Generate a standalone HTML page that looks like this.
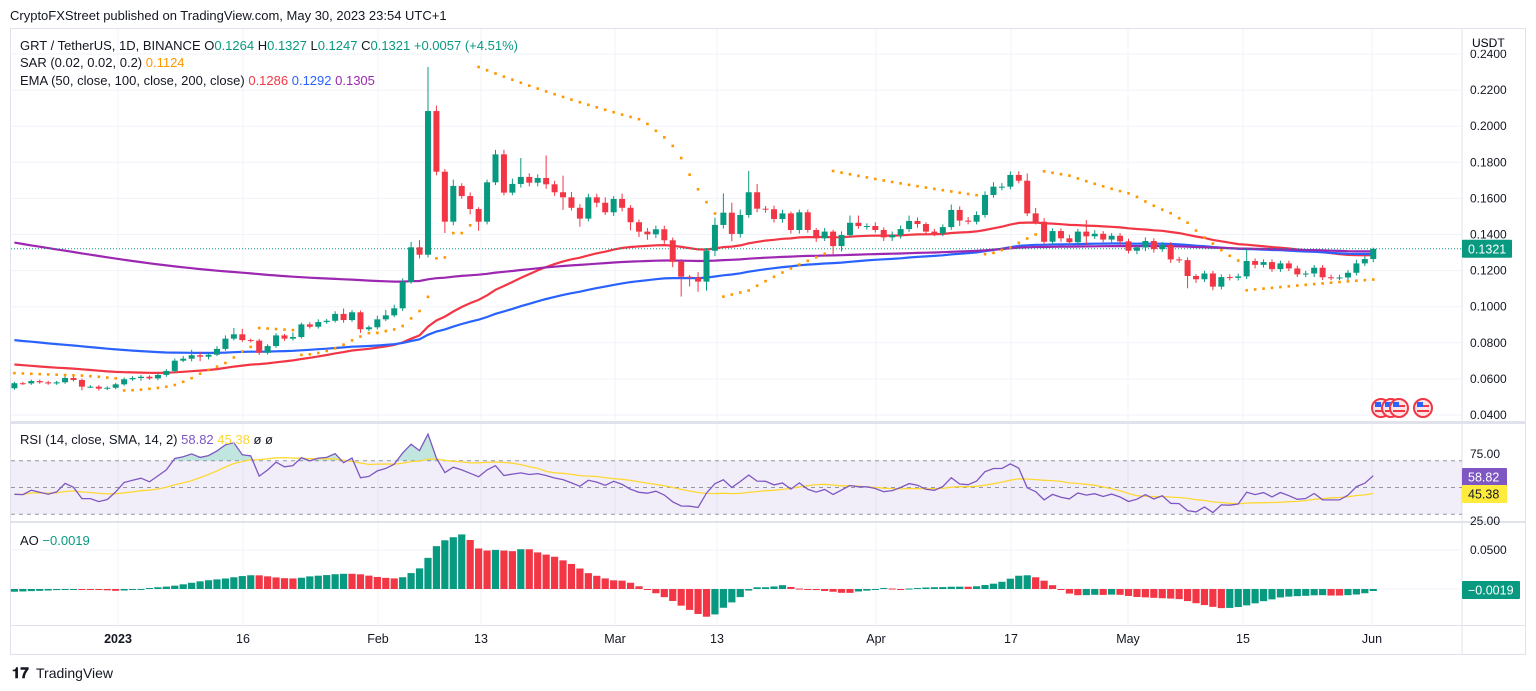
<!DOCTYPE html>
<html><head><meta charset="utf-8">
<style>
body{margin:0;background:#fff;width:1536px;height:691px;overflow:hidden;font-family:"Liberation Sans",sans-serif;}
svg{position:absolute;left:0;top:0}
text{font-family:"Liberation Sans",sans-serif}
</style></head>
<body>
<svg id="chart" width="1536" height="691" viewBox="0 0 1536 691">
<text x="10" y="20" font-size="13" fill="#131722">CryptoFXStreet published on TradingView.com, May 30, 2023 23:54 UTC+1</text>
<rect x="10.5" y="28.5" width="1515" height="626" fill="#fff" stroke="#e0e3eb"/>
<g id="grid"></g>
<g id="price"></g>
<g id="rsi"></g>
<g id="ao"></g>
<g id="axes"></g>
<g font-size="13">
<text x="20" y="50" fill="#131722">GRT / TetherUS, 1D, BINANCE  O<tspan fill="#089981">0.1264</tspan>  H<tspan fill="#089981">0.1327</tspan>  L<tspan fill="#089981">0.1247</tspan>  C<tspan fill="#089981">0.1321</tspan>  <tspan fill="#089981">+0.0057 (+4.51%)</tspan></text>
<text x="20" y="67" fill="#131722">SAR (0.02, 0.02, 0.2)  <tspan fill="#FF9800">0.1124</tspan></text>
<text x="20" y="85" fill="#131722">EMA (50, close, 100, close, 200, close)  <tspan fill="#F23645">0.1286</tspan>  <tspan fill="#2962FF">0.1292</tspan>  <tspan fill="#9C27B0">0.1305</tspan></text>
<text x="20" y="444" fill="#131722">RSI (14, close, SMA, 14, 2)  <tspan fill="#7E57C2">58.82</tspan>  <tspan fill="#FDD835">45.38</tspan>  ø  ø</text>
<text x="20" y="545" fill="#131722">AO  <tspan fill="#089981">−0.0019</tspan></text>
</g>
<rect x="1463" y="29" width="62" height="12" fill="#fff"/>
<text x="1472" y="47" font-size="12" fill="#131722">USDT</text>
<g>
<g><circle cx="1381" cy="408" r="9" fill="#fde4e6" stroke="#F23645" stroke-width="2"/><rect x="1375" y="405" width="12" height="2" fill="#F23645"/><rect x="1375" y="410" width="12" height="2" fill="#F23645"/><rect x="1375" y="402" width="6" height="5" fill="#2962FF"/></g>
<g><circle cx="1391" cy="408" r="9" fill="#fde4e6" stroke="#F23645" stroke-width="2"/><rect x="1385" y="405" width="12" height="2" fill="#F23645"/><rect x="1385" y="410" width="12" height="2" fill="#F23645"/><rect x="1385" y="402" width="6" height="5" fill="#2962FF"/></g>
<g><circle cx="1399" cy="408" r="9" fill="#fde4e6" stroke="#F23645" stroke-width="2"/><rect x="1393" y="405" width="12" height="2" fill="#F23645"/><rect x="1393" y="410" width="12" height="2" fill="#F23645"/><rect x="1393" y="402" width="6" height="5" fill="#2962FF"/></g>
<g><circle cx="1423" cy="408" r="9" fill="#fde4e6" stroke="#F23645" stroke-width="2"/><rect x="1417" y="405" width="12" height="2" fill="#F23645"/><rect x="1417" y="410" width="12" height="2" fill="#F23645"/><rect x="1417" y="402" width="6" height="5" fill="#2962FF"/></g>
</g>
<g>
<text x="12" y="678" font-size="15" font-weight="bold" fill="#131722">𝟏𝟕</text>
<text x="36" y="678" font-size="14" fill="#131722">TradingView</text>
</g>
</svg>
<script>
const NS="http://www.w3.org/2000/svg";
const firstIndex=-12;
const closes=[.0576,.0575,.0588,.0581,.0575,.0581,.0605,.0594,.0557,.0557,
.0546,.0551,.0570,.0598,.0605,.0612,.0603,.0622,.0644,.0701,
.0712,.0731,.0723,.0734,.0766,.0823,.0847,.0815,.0812,.0745,
.0782,.0841,.0823,.0832,.0902,.0889,.0915,.0922,.0960,.0926,
.0969,.0875,.0886,.0930,.0952,.0991,.1137,.1329,.1288,.2084,
.1748,.1471,.1669,.1613,.1541,.1471,.1689,.1844,.1632,.1680,
.1719,.1687,.1713,.1678,.1634,.1606,.1548,.1488,.1606,.1576,
.1523,.1597,.1548,.1468,.1416,.1401,.1429,.1368,.1249,.1166,
.1162,.1139,.1310,.1453,.1521,.1403,.1508,.1634,.1543,.1540,
.1486,.1517,.1425,.1523,.1425,.1379,.1416,.1336,.1397,.1465,
.1447,.1447,.1425,.1384,.1397,.1430,.1475,.1458,.1416,.1406,
.1441,.1536,.1477,.1471,.1508,.1619,.1665,.1665,.1730,.1698,
.1517,.1471,.1360,.1419,.1379,.1357,.1416,.1390,.1404,.1372,
.1393,.1362,.1310,.1328,.1364,.1319,.1343,.1262,.1258,.1170,
.1152,.1184,.1111,.1164,.1160,.1168,.1253,.1232,.1247,.1208,
.1240,.1212,.1179,.1184,.1216,.1163,.1162,.1162,.1188,.1240,
.1264,.1321];
const firstOpen=.0548;
const upWick=[8,8,8,8,8,8,10,10,8,8, 8,8,8,10,10,10,8,10,10,12, 15,30,20,8,15,18,35,30,8,10, 10,12,8,25,10,12,15,10,15,30,
12,10,10,20,30,20,20,30,40,244, 30,15,35,15,20,10,15,25,25,30, 105,20,20,125,20,92,30,20,20,20, 30,15,30,15,15,20,20,20,15,15,
10,30,15,40,107,55,30,118,46,15, 20,20,10,15,15,10,20,10,20,40, 40,15,20,15,20,20,30,20,10,15, 15,30,20,20,20,20,25,20,20,20,
40,30,20,15,15,20,15,64,20,15, 15,15,15,10,20,15,15,15,15,15, 10,15,15,15,15,15,67,15,15,15, 15,15,15,15,15,15,15,15,15,20, 15,6];
const dnWick=[8,8,8,8,8,8,8,8,20,8, 10,8,8,8,8,15,8,10,10,8, 8,15,25,15,8,10,10,10,10,12, 10,10,12,10,8,10,10,10,10,15,
10,20,10,12,10,10,15,10,20,15, 20,63,20,15,30,50,15,15,15,15, 20,20,20,25,20,70,15,45,15,25, 15,20,20,45,30,30,20,20,30,110,
50,56,50,30,20,40,20,15,20,20, 20,20,20,20,15,20,15,45,30,15, 15,20,15,20,20,20,15,20,15,15, 15,15,30,15,15,15,15,20,15,15,
15,15,15,15,20,25,15,47,15,15, 15,20,15,20,20,20,15,20,15,68, 20,15,20,15,15,15,15,20,15,15, 15,15,15,15,20,15,15,15,15,15, 15,17];
const emaSeeds=[0.0680,0.0815,0.1355];
const emaPeriods=[50,100,200];
const emaColors=["#F23645","#2962FF","#9C27B0"];
const sarStart=[0.0632,0.02];
const rsiSeed=[0.0006,0.0010];
const preMedians=[.066,.065,.066,.067,.066,.065,.064,.063,.064,.063,.062,.061,.062,.061,.060,.060,.059,.060,.059,.059,.058,.058,.058,.059,.058,.058,.057,.057,.058,.057,.057,.058,.057];
const priceTicks=[0.04,0.06,0.08,0.10,0.12,0.14,0.16,0.18,0.20,0.22,0.24];
const timeLabels=["2023","16","Feb","13","Mar","13","Apr","17","May","15","Jun"];
const timeLabelX=[118,243,378,481,615,717,876,1011,1128,1243,1372];
const rsiTicks=[75,25];
const aoTicks=[0.05];

const X=i=>115.7+i*8.44;
const PY=p=>415-(p-0.04)*1805;
const RY=r=>487.5-(r-50)*1.34;
const AY=v=>589-v*780;
const L=1462;
function mk(tag,attrs,parent){const e=document.createElementNS(NS,tag);for(const k in attrs)e.setAttribute(k,attrs[k]);parent.appendChild(e);return e;}
const grid=document.getElementById('grid'),price=document.getElementById('price'),rsiG=document.getElementById('rsi'),aoG=document.getElementById('ao'),axes=document.getElementById('axes');

priceTicks.forEach(p=>{const y=PY(p);if(y<30)return;
 const g=mk('line',{x1:11,x2:L,y1:y,y2:y,stroke:'#f0f3fa'},grid);
 
 });
priceTicks.forEach(p=>{const t=mk('text',{x:1470,y:PY(p)+4,'font-size':12,fill:'#131722'},axes);t.textContent=p.toFixed(4);
 
 });
timeLabels.forEach((s,k)=>{const x=timeLabelX[k];
 const g=mk('line',{x1:x,x2:x,y1:29,y2:626,stroke:'#f0f3fa'},grid);
 
 
 const t=mk('text',{x:x,y:643,'font-size':12.5,fill:'#131722','text-anchor':'middle','font-weight':s==='2023'?'bold':'normal'},axes);t.textContent=s;
 
 });
[[422,3],[522,2],[626,1]].forEach(([y,w])=>{mk('rect',{x:11,y:y-1,width:1514,height:w,fill:'#e0e3eb'},grid);});
mk('line',{x1:L,x2:L,y1:29,y2:654,stroke:'#e0e3eb'},grid);
rsiTicks.forEach(r=>{const t=mk('text',{x:1470,y:RY(r)+4,'font-size':12,fill:'#131722'},axes);t.textContent=r.toFixed(2);
 
 });
aoTicks.forEach(v=>{const t=mk('text',{x:1470,y:AY(v)+4,'font-size':12,fill:'#131722'},axes);t.textContent=v.toFixed(4);
 
 
 mk('line',{x1:11,x2:L,y1:AY(v),y2:AY(v),stroke:'#f0f3fa'},grid);});
mk('line',{x1:11,x2:L,y1:AY(0),y2:AY(0),stroke:'#f0f3fa'},grid);

const n=closes.length;
const opens=closes.map((c,k)=>k===0?firstOpen:closes[k-1]);
const highs=closes.map((c,k)=>Math.max(c,opens[k])+upWick[k]/10000);
const lows=closes.map((c,k)=>Math.min(c,opens[k])-dnWick[k]/10000);

const defs=mk('defs',{},document.getElementById('chart'));
const cp=mk('clipPath',{id:'pc'},defs);mk('rect',{x:11,y:29,width:L-11,height:392},cp);
const cr=mk('clipPath',{id:'rc'},defs);mk('rect',{x:11,y:424,width:L-11,height:97},cr);
const cf=mk('clipPath',{id:'rf'},defs);mk('rect',{x:11,y:424,width:L-11,height:RY(70)-424},cf);
price.setAttribute('clip-path','url(#pc)');

emaPeriods.forEach((per,k)=>{let e=emaSeeds[k];const a=2/(per+1);const pts=[];
 closes.forEach((c,i)=>{e=i===0?e:e+a*(c-e);pts.push(X(i+firstIndex).toFixed(1)+','+PY(e).toFixed(1));});
 const pl=mk('polyline',{points:pts.join(' '),fill:'none',stroke:emaColors[k],'stroke-width':2.2},price);
 
 });

const lp=mk('line',{x1:11,x2:L,y1:PY(closes[n-1]),y2:PY(closes[n-1]),stroke:'#089981','stroke-dasharray':'1 2'},price);



closes.forEach((c,k)=>{const o=opens[k],x=X(k+firstIndex),col=c>=o?'#089981':'#F23645';
 const g=mk('g',{},price);
 
 
 mk('line',{x1:x,x2:x,y1:PY(highs[k]),y2:PY(lows[k]),stroke:col,'stroke-width':1},g);
 const t=PY(Math.max(o,c)),b=PY(Math.min(o,c));
 mk('rect',{x:x-3,y:t,width:6,height:Math.max(1,b-t),fill:col},g);});

(function(){let up=false,sar=sarStart[0],af=sarStart[1],ep=lows[0];
 for(let k=0;k<n;k++){
  if(k>0){sar=sar+af*(ep-sar);
   if(up){sar=Math.min(sar,lows[k-1],k>1?lows[k-2]:lows[k-1]);
    if(lows[k]<sar){up=false;sar=ep;ep=lows[k];af=0.02;}
    else if(highs[k]>ep){ep=highs[k];af=Math.min(0.2,af+0.02);}}
   else{sar=Math.max(sar,highs[k-1],k>1?highs[k-2]:highs[k-1]);
    if(highs[k]>sar){up=true;sar=ep;ep=highs[k];af=0.02;}
    else if(lows[k]<ep){ep=lows[k];af=Math.min(0.2,af+0.02);}}}
  const d=mk('rect',{x:X(k+firstIndex)-1.3,y:PY(sar)-1.3,width:2.6,height:2.6,fill:'#FF9800'},price);
  
  }
})();

mk('rect',{x:11,y:RY(70),width:L-11,height:RY(30)-RY(70),fill:'#7E57C2','fill-opacity':0.1},rsiG);
[70,50,30].forEach(r=>mk('line',{x1:11,x2:L,y1:RY(r),y2:RY(r),stroke:'#9598a1','stroke-dasharray':'4 4'},rsiG));
const rsi=[];(function(){let g=rsiSeed[0],l=rsiSeed[1];
 closes.forEach((c,k)=>{const ch=k===0?c-firstOpen:c-closes[k-1];g=(g*13+Math.max(ch,0))/14;l=(l*13+Math.max(-ch,0))/14;rsi.push(100-100/(1+g/l));});})();
const rsiSma=rsi.map((v,k)=>{const s=rsi.slice(Math.max(0,k-13),k+1);return s.reduce((a,b)=>a+b,0)/s.length;});
const rp=rsi.map((v,k)=>X(k+firstIndex).toFixed(1)+','+RY(v).toFixed(1));
const fill=mk('polygon',{points:X(firstIndex)+','+RY(70)+' '+rp.join(' ')+' '+X(n-1+firstIndex)+','+RY(70),fill:'#089981','fill-opacity':0.25,'clip-path':'url(#rf)'},rsiG);


const smaL=mk('polyline',{points:rsiSma.map((v,k)=>X(k+firstIndex).toFixed(1)+','+RY(v).toFixed(1)).join(' '),fill:'none',stroke:'#FDD835','stroke-width':1.3},rsiG);


const rl=mk('polyline',{points:rp.join(' '),fill:'none',stroke:'#7E57C2','stroke-width':1.3,'clip-path':'url(#rc)'},rsiG);



const med=preMedians.concat(closes.map((c,k)=>(highs[k]+lows[k])/2));
const off=preMedians.length;
const sma=(a,e,p)=>{let s=0;for(let j=e-p+1;j<=e;j++)s+=a[Math.max(0,j)];return s/p;};
let prevAo=null;
closes.forEach((c,k)=>{const e=k+off;const v=sma(med,e,5)-sma(med,e,34);
 const col=(prevAo===null||v>=prevAo)?'#089981':'#F23645';prevAo=v;
 const y0=AY(0),y1=AY(v);
 const b=mk('rect',{x:X(k+firstIndex)-3.6,y:Math.min(y0,y1),width:7.2,height:Math.max(1,Math.abs(y1-y0)),fill:col},aoG);
 
 });

function badge(y,bg,fg,txt,w,name){const g=mk('g',{},axes);
 
 
 mk('rect',{x:L,y:y-9,width:w,height:18,fill:bg,rx:1},g);
 const t=mk('text',{x:L+6,y:y+4.5,'font-size':12.5,fill:fg},g);t.textContent=txt;}
badge(PY(closes[n-1]),'#089981','#fff',closes[n-1].toFixed(4),50,'last-price-badge');
badge(477,'#7E57C2','#fff','58.82',45,'rsi-value-badge');
badge(494,'#FFEB3B','#131722','45.38',45,'rsi-sma-badge');
badge(590,'#089981','#fff','−0.0019',58,'ao-value-badge');
// keep the clipped top tick look
const cover=mk('rect',{x:1463,y:29,width:62,height:21,fill:'#fff','fill-opacity':0.6},axes);


const usdt=mk('text',{x:1472,y:47,'font-size':12,fill:'#131722'},axes);usdt.textContent='USDT';


</script>
</body></html>
